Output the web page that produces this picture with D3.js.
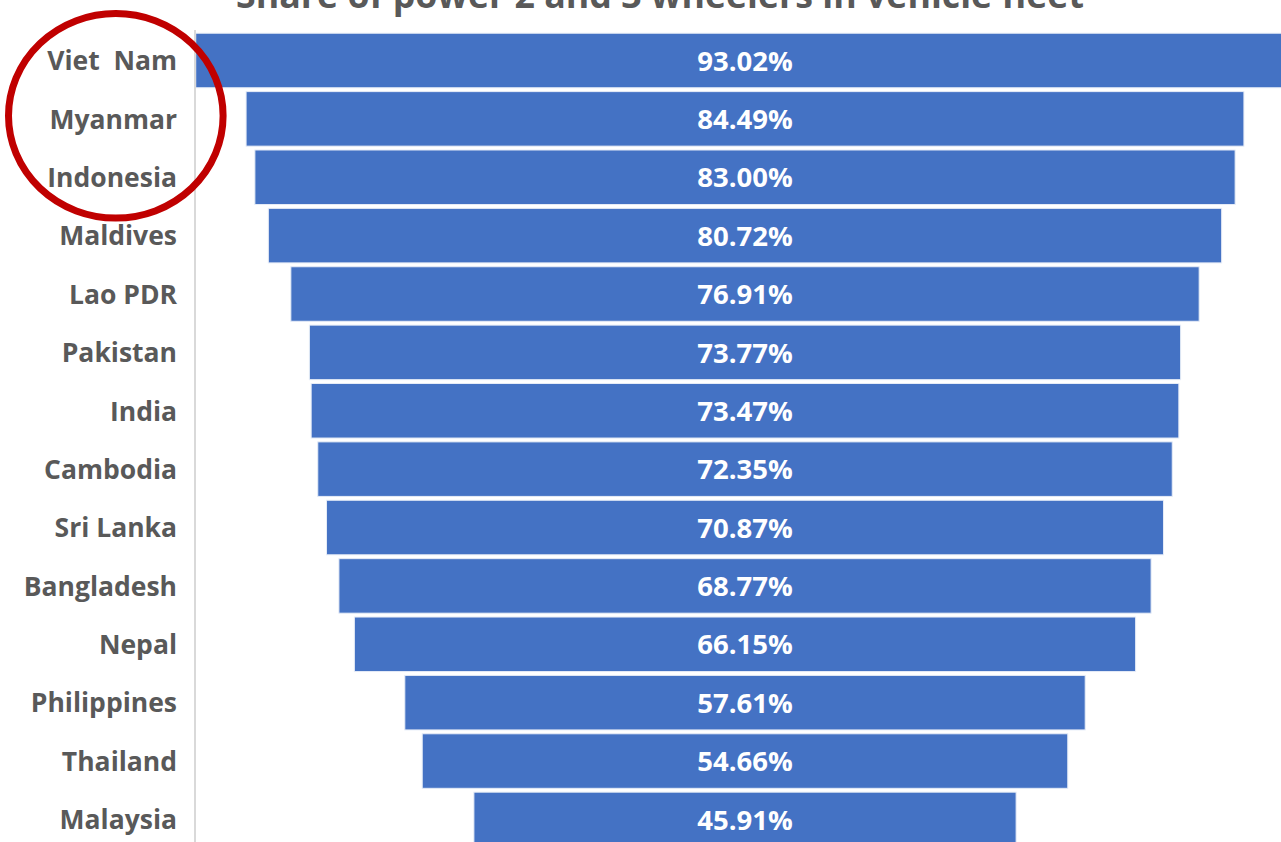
<!DOCTYPE html>
<html>
<head>
<meta charset="utf-8">
<script src="https://cdn.jsdelivr.net/npm/d3@7"></script>
<style>
  html, body { margin: 0; padding: 0; background: #fff; overflow: hidden; }
  svg { display: block; }
</style>
</head>
<body>
<svg id="chart" width="1281" height="842"></svg>
<script>
const titleText = "Share of power 2 and 3 wheelers in vehicle fleet";
const countries = ["Viet  Nam", "Myanmar", "Indonesia", "Maldives", "Lao PDR", "Pakistan", "India",
  "Cambodia", "Sri Lanka", "Bangladesh", "Nepal", "Philippines", "Thailand", "Malaysia"];
const shares = [93.02, 84.49, 83.00, 80.72, 76.91, 73.77, 73.47, 72.35, 70.87, 68.77, 66.15, 57.61, 54.66, 45.91];

const svg = d3.select("#chart");
const W = 1281, H = 842;
const centerX = 745;
const axisX = 195;

const y = d3.scaleBand()
  .domain(countries)
  .range([31.3, 31.3 + 58.38 * countries.length])
  .paddingInner(0.066)
  .paddingOuter(0.033);

const w = d3.scaleLinear().domain([0, 100]).range([0, 1181]);

// bars
svg.append("g").selectAll("rect")
  .data(countries)
  .join("rect")
  .attr("x", (d, i) => centerX - w(shares[i]) / 2)
  .attr("y", d => y(d))
  .attr("width", (d, i) => w(shares[i]))
  .attr("height", y.bandwidth())
  .attr("fill", "#4472c4")
  .attr("stroke", "#e6ecf7")
  .attr("stroke-width", 1);

// axis line
svg.append("line")
  .attr("x1", axisX).attr("x2", axisX)
  .attr("y1", 30).attr("y2", H)
  .attr("stroke", "#d9d9d9").attr("stroke-width", 2);

// category labels
const yAxis = d3.axisLeft(y).tickSize(0).tickPadding(0);
const ag = svg.append("g").attr("transform", `translate(177,0)`).call(yAxis);
ag.select(".domain").remove();
ag.selectAll("text")
  .attr("fill", "#595959")
  .attr("font-family", "'Open Sans', sans-serif")
  .attr("font-weight", "bold")
  .attr("font-size", 26.5)
  .attr("dy", "0.37em")
  .style("white-space", "pre")
  .attr("xml:space", "preserve");

// value labels
svg.append("g").selectAll("text")
  .data(countries)
  .join("text")
  .attr("x", centerX)
  .attr("y", d => y(d) + y.bandwidth() / 2)
  .attr("dy", "0.37em")
  .attr("text-anchor", "middle")
  .attr("fill", "#ffffff")
  .attr("font-family", "'Open Sans', sans-serif")
  .attr("font-weight", "bold")
  .attr("font-size", 27.5)
  .text((d, i) => shares[i].toFixed(2) + "%");

// title (cut by the top edge, as in the source image)
const title = svg.append("text")
  .attr("x", 660)
  .attr("y", 8)
  .attr("text-anchor", "middle")
  .attr("fill", "#595959")
  .attr("font-family", "'Open Sans', sans-serif")
  .attr("font-weight", "bold")
  .attr("font-size", 32)
  .text(titleText);
const tw = title.node().getComputedTextLength();
title.attr("font-size", 32 * 848 / tw);

// highlight circle
svg.append("ellipse")
  .attr("cx", 115.8).attr("cy", 115.8)
  .attr("rx", 107.3).attr("ry", 102.3)
  .attr("fill", "none")
  .attr("stroke", "#c00000")
  .attr("stroke-width", 7);
</script>
</body>
</html>
